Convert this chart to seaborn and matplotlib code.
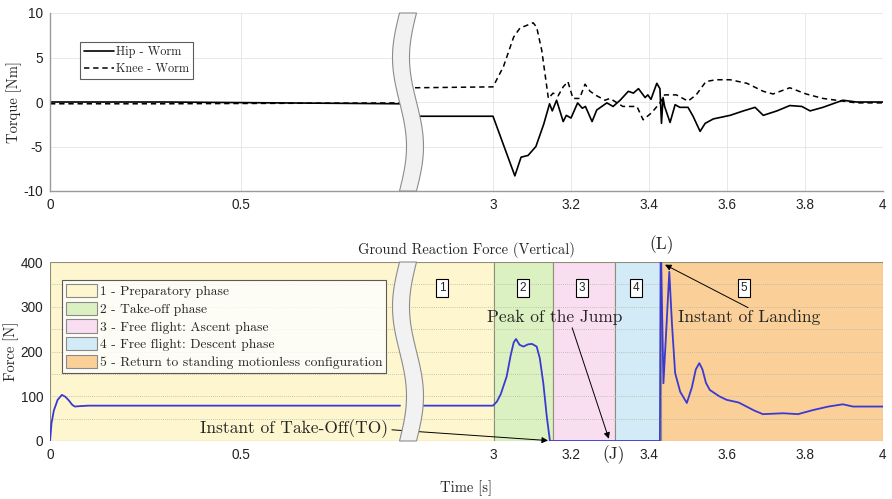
import numpy as np
import pandas as pd
import matplotlib
matplotlib.use("Agg")
import matplotlib.pyplot as plt
import seaborn as sns
from matplotlib.patches import Patch, Polygon
from matplotlib.lines import Line2D

# ---------------- data ----------------
# Torque (top panel) - left segment and right segment of the broken time axis
hip_t_left = [0.0, 0.3, 0.6, 0.92]
hip_v_left = [0.0, 0.0, -0.1, -0.2]
knee_t_left = [0.0, 0.3, 0.6, 0.92]
knee_v_left = [-0.2, -0.2, -0.15, -0.1]

hip_t_right = [2.8, 3.0, 3.056, 3.072, 3.09, 3.11, 3.13, 3.145, 3.152, 3.163, 3.18, 3.188, 3.2,
               3.217, 3.229, 3.237, 3.254, 3.266, 3.292, 3.308, 3.326, 3.347, 3.36, 3.373, 3.39,
               3.397, 3.405, 3.42, 3.428, 3.432, 3.436, 3.44, 3.454, 3.467, 3.479, 3.5, 3.513,
               3.531, 3.544, 3.565, 3.608, 3.642, 3.672, 3.693, 3.728, 3.761, 3.792, 3.813,
               3.846, 3.897, 3.932, 4.0]
hip_v_right = [-1.6, -1.6, -8.3, -6.2, -6.0, -5.0, -2.5, -0.2, -1.0, 0.2, -2.2, -1.5, -1.8,
               -0.1, -0.7, -0.5, -2.2, -0.9, -0.1, -0.5, 0.2, 1.2, 1.0, 1.5, 0.5,
               0.8, 0.3, 2.1, 1.5, -2.4, 0.5, -0.5, -2.3, -0.3, -0.6, -0.6, -1.6,
               -3.3, -2.4, -1.9, -1.5, -1.0, -0.6, -1.5, -1.0, -0.4, -0.5, -1.0,
               -0.6, 0.2, 0.0, 0.0]

knee_t_right = [2.8, 3.0, 3.027, 3.053, 3.069, 3.103, 3.112, 3.125, 3.142, 3.154, 3.167, 3.18,
                3.192, 3.205, 3.222, 3.236, 3.249, 3.266, 3.287, 3.3, 3.333, 3.369, 3.385,
                3.407, 3.428, 3.44, 3.47, 3.5, 3.521, 3.546, 3.572, 3.608, 3.651, 3.693,
                3.718, 3.761, 3.803, 3.846, 3.897, 3.932, 4.0]
knee_v_right = [1.6, 1.7, 4.0, 7.3, 8.3, 8.9, 8.4, 5.8, 0.4, 1.0, 0.7, 1.7,
                2.3, 0.4, 0.4, 2.0, 1.2, 0.7, 0.2, 0.4, -0.5, -0.5, -2.0,
                -1.2, -0.1, 0.8, 0.8, 0.1, 0.8, 2.3, 2.5, 2.5, 2.1, 1.2,
                0.9, 1.6, 0.9, 0.4, 0.1, -0.1, -0.1]

# Vertical ground reaction force (bottom panel)
grf_t_left = [0.0, 0.004, 0.01, 0.02, 0.031, 0.04, 0.05, 0.058, 0.065, 0.08, 0.1, 0.3, 0.6, 0.92]
grf_v_left = [0, 40, 68, 92, 103, 99, 90, 81, 77, 78, 79, 79, 79, 79]
grf_t_right = [2.8, 3.0, 3.01, 3.02, 3.035, 3.045, 3.053, 3.059, 3.068, 3.078, 3.09, 3.1, 3.112,
               3.12, 3.129, 3.138, 3.146, 3.428, 3.430, 3.437, 3.445, 3.452, 3.459, 3.467,
               3.48, 3.497, 3.51, 3.52, 3.529, 3.537, 3.546, 3.556, 3.58, 3.599, 3.63, 3.65,
               3.67, 3.692, 3.744, 3.782, 3.82, 3.86, 3.897, 3.923, 4.0]
grf_v_right = [79, 79, 88, 105, 144, 190, 220, 228, 215, 211, 216, 217, 211,
               185, 129, 54, 0, 0, 460, 129, 260, 378, 260, 152,
               110, 85, 120, 160, 174, 160, 130, 114, 100, 92, 86, 77,
               68, 60, 62, 60, 69, 77, 82, 77, 77]

# Phases
phase_labels = ["1 - Preparatory phase", "2 - Take-off phase", "3 - Free flight: Ascent phase",
                "4 - Free flight: Descent phase", "5 - Return to standing motionless configuration"]
phase_start = [0.0, 3.003, 3.153, 3.313, 3.431]
phase_end = [3.003, 3.153, 3.313, 3.431, 4.0]
phase_colors = ["#fdf6cf", "#dcf1c1", "#f9ddf0", "#d3ebf7", "#fbcf98"]
phase_num_x = [2.869, 3.077, 3.228, 3.367, 3.644]

xtick_vals = [0, 0.5, 3, 3.2, 3.4, 3.6, 3.8, 4]
xtick_labels = ["0", "0.5", "3", "3.2", "3.4", "3.6", "3.8", "4"]

# ---------------- broken-axis scale ----------------
T1, T2 = 0.9162, 2.8
U1, U2 = 350.0, 365.0
SL, SR = 382.0, 390.0


def fwd(t):
    t = np.asarray(t, dtype=float)
    return np.where(t <= T1, t * SL,
                    np.where(t >= T2, U2 + (t - T2) * SR,
                             U1 + (t - T1) / (T2 - T1) * (U2 - U1)))


def inv(u):
    u = np.asarray(u, dtype=float)
    return np.where(u <= U1, u / SL,
                    np.where(u >= U2, T2 + (u - U2) / SR,
                             T1 + (u - U1) / (U2 - U1) * (T2 - T1)))


# ---------------- style ----------------
sns.set_theme(style="white")
plt.rcParams["font.family"] = ["Liberation Sans", "DejaVu Sans"]
plt.rcParams["axes.unicode_minus"] = False
SERIF = ["cmr10", "DejaVu Serif"]

fig = plt.figure(figsize=(8.92, 4.99), dpi=100)
ax1 = fig.add_axes([50 / 892, 1 - 191 / 499, 833 / 892, 178 / 499])
ax2 = fig.add_axes([50 / 892, 1 - 441 / 499, 833 / 892, 179 / 499])

for ax in (ax1, ax2):
    ax.set_xscale("function", functions=(fwd, inv))
    ax.set_xlim(0, 4)
    ax.set_xticks(xtick_vals)
    ax.set_xticklabels(xtick_labels)
    ax.tick_params(axis="both", labelsize=9.8, colors="#333333", direction="in",
                   length=3, width=0.6, pad=5)
    ax.tick_params(axis="both", labelcolor="#222222")
    ax.minorticks_off()

# ---------- top panel ----------
for sp in ["top", "right"]:
    ax1.spines[sp].set_visible(False)
for sp in ["left", "bottom"]:
    ax1.spines[sp].set_color("#9a9a9a")
    ax1.spines[sp].set_linewidth(1.0)
ax1.set_ylim(-10, 10)
ax1.set_yticks([-10, -5, 0, 5, 10])
ax1.grid(True, color="#e4e4e4", linewidth=0.6)
ax1.set_axisbelow(True)

sns.lineplot(x=hip_t_left, y=hip_v_left, ax=ax1, color="black", lw=1.2, sort=False, estimator=None)
sns.lineplot(x=hip_t_right, y=hip_v_right, ax=ax1, color="black", lw=1.2, sort=False, estimator=None)
sns.lineplot(x=knee_t_left, y=knee_v_left, ax=ax1, color="black", lw=1.1, sort=False,
             estimator=None, linestyle=(0, (3.5, 2.5)))
sns.lineplot(x=knee_t_right, y=knee_v_right, ax=ax1, color="black", lw=1.1, sort=False,
             estimator=None, linestyle=(0, (3.5, 2.5)))
ax1.set_xlabel("")
ax1.set_ylabel("Torque [Nm]", family=SERIF, fontsize=10.5, labelpad=1)

h_top = [Line2D([], [], color="black", lw=1.2),
         Line2D([], [], color="black", lw=1.1, linestyle=(0, (3.5, 2.5)))]
leg1 = ax1.legend(h_top, ["Hip - Worm", "Knee - Worm"], loc="upper left",
                  bbox_to_anchor=(0.036, 0.837), borderaxespad=0, frameon=True,
                  fancybox=False, edgecolor="#333333", handlelength=2.4, handletextpad=0.2,
                  borderpad=0.35, labelspacing=0.35, prop={"family": SERIF, "size": 8.8})
leg1.get_frame().set_linewidth(0.8)

# ---------- bottom panel ----------
for sp in ax2.spines.values():
    sp.set_visible(False)
ax2.set_ylim(0, 400)
ax2.set_yticks([0, 100, 200, 300, 400])
for s, e, c in zip(phase_start, phase_end, phase_colors):
    ax2.axvspan(s, e, facecolor=c, edgecolor="#8f8f78", lw=0.8, zorder=0)
for yv in [50, 100, 150, 200, 250, 300, 350]:
    ax2.axhline(yv, color="#b5b5a5", lw=0.6, linestyle=(0, (1, 1.5)), zorder=0.5)

sns.lineplot(x=grf_t_left, y=grf_v_left, ax=ax2, color="#3a3ad2", lw=1.3, sort=False, estimator=None)
sns.lineplot(x=grf_t_right, y=grf_v_right, ax=ax2, color="#3a3ad2", lw=1.3, sort=False, estimator=None)

ax2.set_title("Ground Reaction Force (Vertical)", family=SERIF, fontsize=10.5, pad=6)
ax2.set_ylabel("Force [N]", family=SERIF, fontsize=10.5, labelpad=1)
ax2.set_xlabel("Time [s]", family=SERIF, fontsize=10.5, labelpad=13)

for i, x in enumerate(phase_num_x):
    ax2.text(x, 342, str(i + 1), ha="center", va="center", fontsize=8.5,
             bbox=dict(boxstyle="square,pad=0.25", facecolor="white", edgecolor="black", lw=0.8),
             zorder=6)

h_bot = [Patch(facecolor=c, edgecolor="#8a8a8a", lw=0.8) for c in phase_colors]
leg2 = ax2.legend(h_bot, phase_labels, loc="upper left", bbox_to_anchor=(0.0144, 0.899),
                  borderaxespad=0, frameon=True, fancybox=False, edgecolor="#333333",
                  handlelength=2.3, handleheight=1.15, handletextpad=0.2, borderpad=0.3,
                  labelspacing=0.25, prop={"family": SERIF, "size": 9.7})
leg2.get_frame().set_linewidth(0.8)
leg2.set_zorder(7)

arrow = dict(arrowstyle="-|>", color="black", lw=0.7, mutation_scale=9, shrinkA=0, shrinkB=0)
ax2.text(0.885, 27, "Instant of Take-Off(TO)", ha="right", va="center", family=SERIF, fontsize=12.5, zorder=6)
ax2.annotate("", xy=(3.141, 1), xytext=(0.895, 25), arrowprops=arrow, zorder=6)
ax2.text(3.159, 276, "Peak of the Jump", ha="center", va="center", family=SERIF, fontsize=12.5, zorder=6)
ax2.annotate("", xy=(3.297, 5), xytext=(3.203, 253), arrowprops=arrow, zorder=6)
ax2.text(3.656, 276, "Instant of Landing", ha="center", va="center", family=SERIF, fontsize=12.5, zorder=6)
ax2.annotate("", xy=(3.441, 394), xytext=(3.654, 298), arrowprops=arrow, zorder=6)
ax2.text(3.433, 438, "(L)", ha="center", va="center", family=SERIF, fontsize=12.5, clip_on=False)
ax2.text(3.31, -30, "(J)", ha="center", va="center", family=SERIF, fontsize=12.5, clip_on=False)

# ---------- axis-break bands ----------
f = np.linspace(0, 1, 100)
c0, A, w = (408 - 50) / 833, 7 / 833, 8.5 / 833
for ax in (ax1, ax2):
    cx = c0 - A * np.sin(2 * np.pi * f)
    yy = 1 - f
    pts = np.concatenate([np.column_stack([cx - w, yy]), np.column_stack([cx + w, yy])[::-1]])
    poly = Polygon(pts, closed=True, transform=ax.transAxes, facecolor="#f2f2f2",
                   edgecolor="#8c8c8c", lw=0.8, zorder=20, clip_on=False)
    ax.add_patch(poly)

fig.savefig("out.png", dpi=100)
